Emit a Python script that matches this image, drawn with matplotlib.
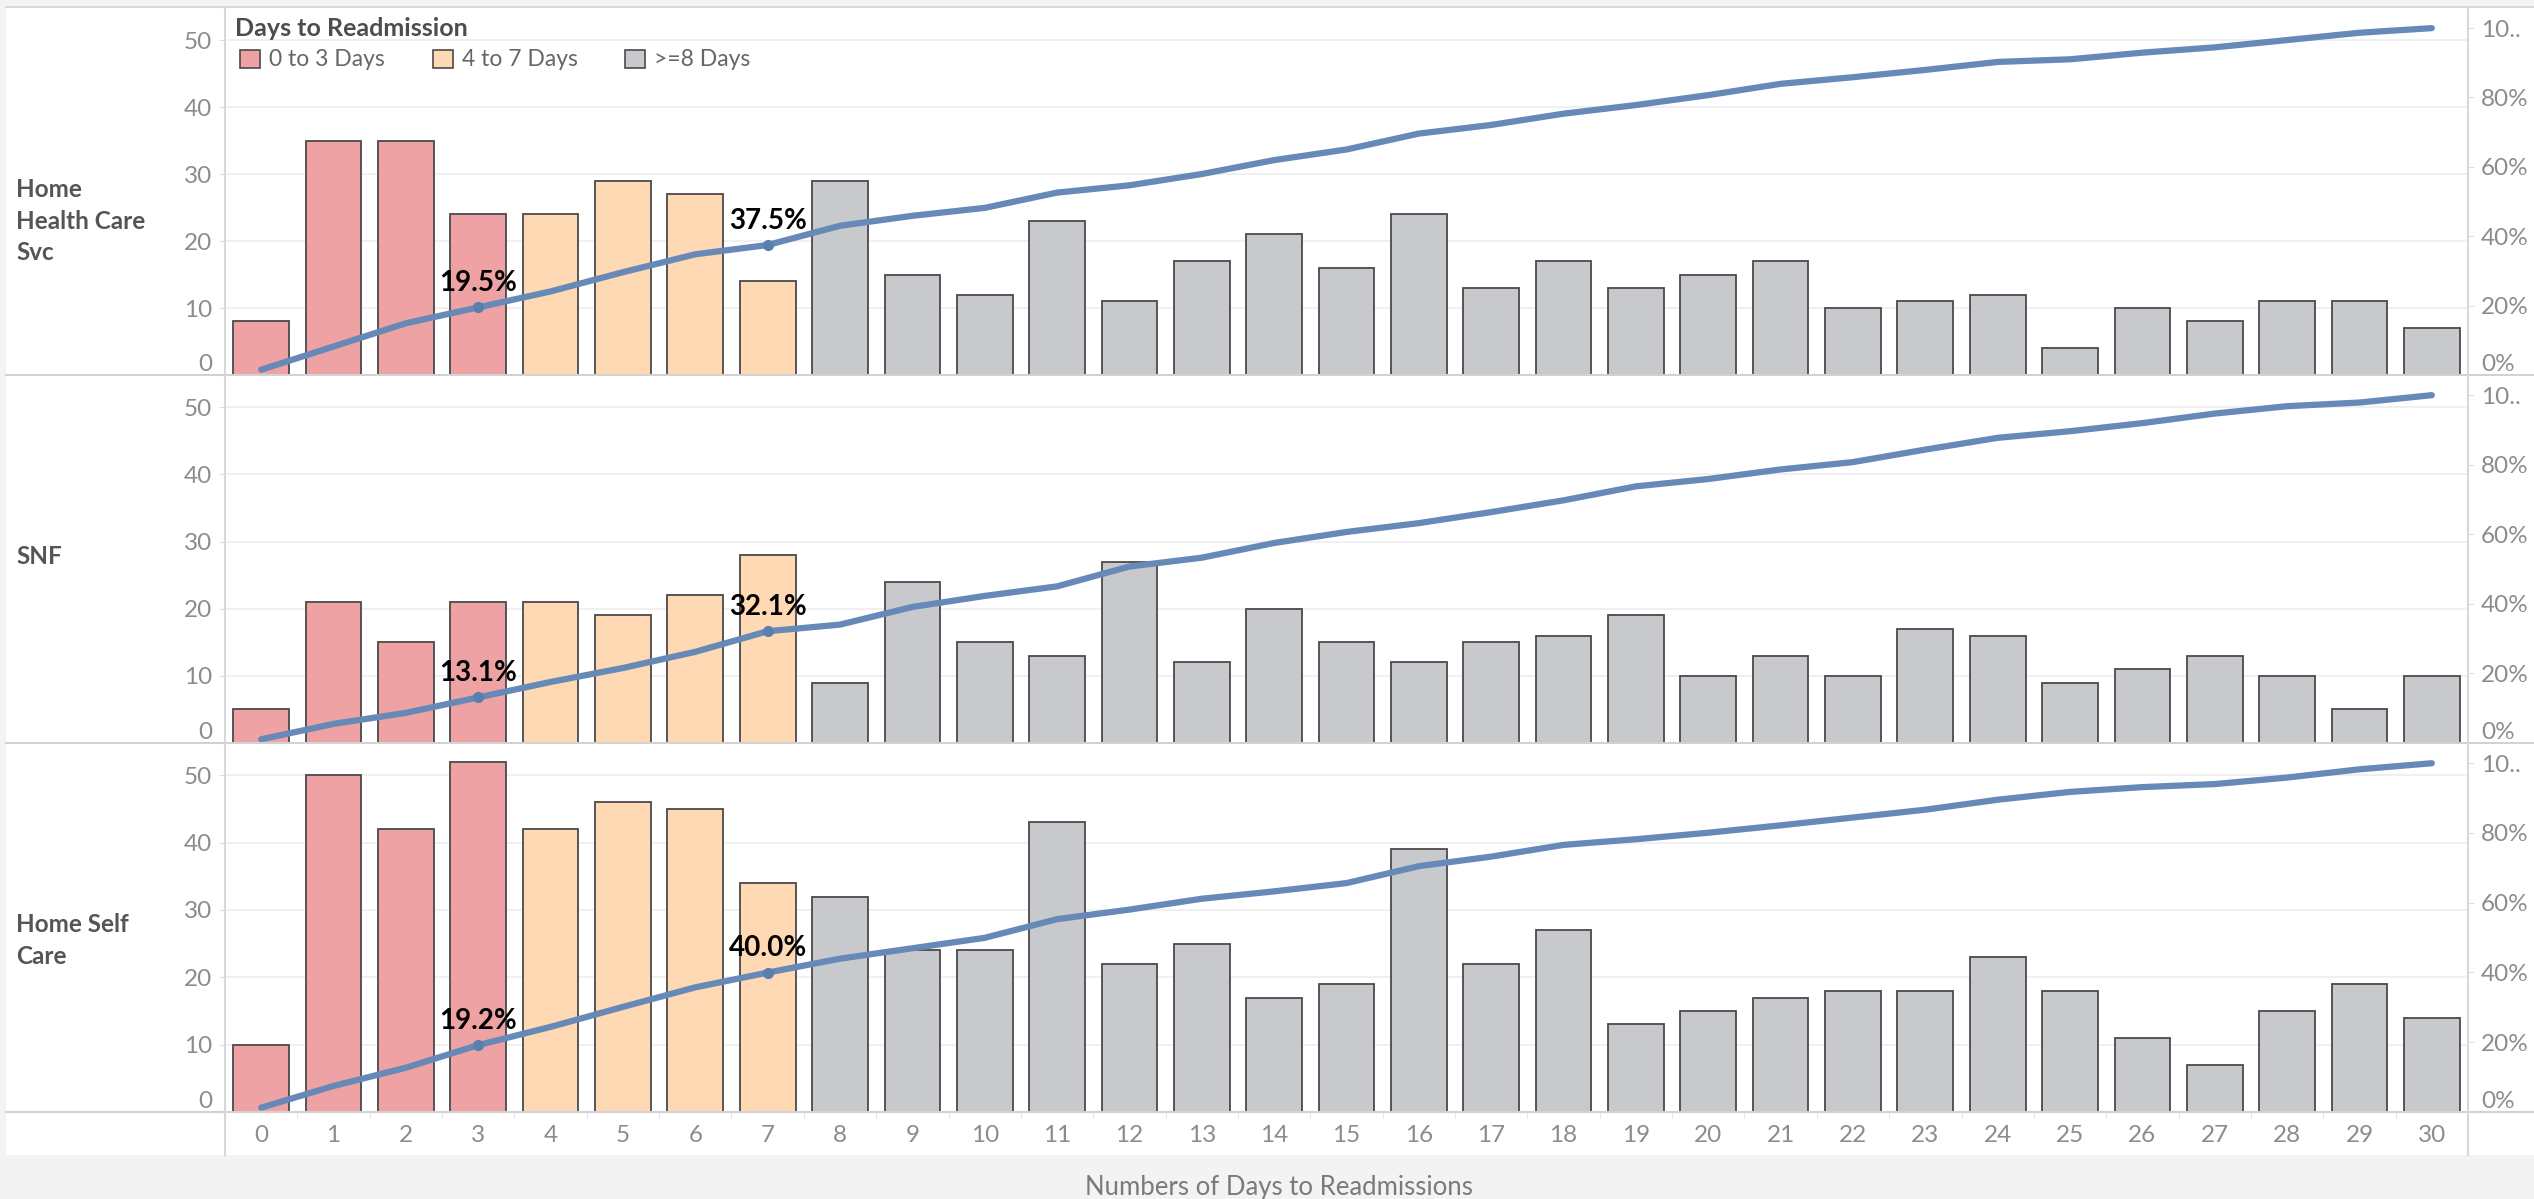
import matplotlib.pyplot as plt
from matplotlib.patches import Rectangle
from matplotlib.lines import Line2D
import numpy as np

plt.rcParams['font.family'] = ['Lato', 'DejaVu Sans']

# readmission counts per day, one list per discharge disposition
days = list(range(31))
home_health_care = [8, 35, 35, 24, 24, 29, 27, 14, 29, 15, 12, 23, 11, 17, 21, 16,
                    24, 13, 17, 13, 15, 17, 10, 11, 12, 4, 10, 8, 11, 11, 7]
snf = [5, 21, 15, 21, 21, 19, 22, 28, 9, 24, 15, 13, 27, 12, 20, 15,
       12, 15, 16, 19, 10, 13, 10, 17, 16, 9, 11, 13, 10, 5, 10]
home_self_care = [10, 50, 42, 52, 42, 46, 45, 34, 32, 24, 24, 43, 22, 25, 17, 19,
                  39, 22, 27, 13, 15, 17, 18, 18, 23, 18, 11, 7, 15, 19, 14]

panel_names = ["Home\nHealth Care\nSvc", "SNF", "Home Self\nCare"]
panel_counts = [home_health_care, snf, home_self_care]

group_names = ["0 to 3 Days", "4 to 7 Days", ">=8 Days"]
group_colors = ["#eea2a4", "#fed9b4", "#c8c9cd"]
labelled_days = [3, 7]
pct_ticks = [0, 0.2, 0.4, 0.6, 0.8, 1.0]
pct_labels = ["0%", "20%", "40%", "60%", "80%", "10.."]

W, H = 2534, 1199
fig = plt.figure(figsize=(W / 100, H / 100), dpi=100, facecolor="#f3f3f3")


def fx(px):
    return px / W


def fy(py):
    return 1 - py / H


def hline(y, x0, x1, color="#d2d2d2", lw=1.5):
    fig.add_artist(Line2D([fx(x0), fx(x1)], [fy(y), fy(y)], transform=fig.transFigure,
                          color=color, lw=lw, zorder=5))


def vline(x, y0, y1, color="#d8d8d8", lw=1.5):
    fig.add_artist(Line2D([fx(x), fx(x)], [fy(y0), fy(y1)], transform=fig.transFigure,
                          color=color, lw=lw, zorder=5))


# white sheet behind the worksheet
fig.add_artist(Rectangle((fx(6), fy(1155)), 1 - fx(6), fy(8) - fy(1155),
                         transform=fig.transFigure, facecolor="white", edgecolor="none", zorder=0))

pane_left, pane_right = 225, 2468
panel_edges = [8, 375, 743, 1112]
tick_grey = "#8c8c8c"
line_blue = "#6689b8"

for i, (name, counts) in enumerate(zip(panel_names, panel_counts)):
    top, bottom = panel_edges[i], panel_edges[i + 1]
    ax = fig.add_axes([fx(pane_left), fy(bottom), fx(pane_right) - fx(pane_left), fy(top) - fy(bottom)])
    ax.patch.set_visible(False)
    colors = [group_colors[0] if d <= 3 else group_colors[1] if d <= 7 else group_colors[2] for d in days]
    ax.bar(days, counts, width=0.77, color=colors, edgecolor="#4a4a4a", linewidth=1.3, zorder=2)
    ax.set_xlim(-0.5, 30.5)
    ax.set_ylim(0, 54.8)
    ax.set_yticks(range(0, 51, 10))
    ax.grid(axis="y", color="#efefef", linewidth=1.3)
    ax.set_axisbelow(True)
    for s in ax.spines.values():
        s.set_visible(False)
    ax.tick_params(axis="y", length=4.3, color="#e0e0e0", labelsize=17.5, labelcolor=tick_grey, pad=5)
    ax.get_yticklabels()[0].set_va("bottom")

    if i < 2:
        ax.tick_params(axis="x", which="both", bottom=False, labelbottom=False)
    else:
        ax.set_xticks(days)
        ax.set_xticks([d + 0.5 for d in days[:-1]], minor=True)
        ax.tick_params(axis="x", which="major", length=0, labelsize=17.5, labelcolor=tick_grey, pad=9)
        ax.tick_params(axis="x", which="minor", length=4, color="#e0e0e0")

    # running share of readmissions
    share = np.cumsum(counts) / sum(counts)
    ax2 = ax.twinx()
    ax2.plot(days, share, color=line_blue, lw=4.5, solid_capstyle="round", zorder=3)
    ax2.set_ylim(0, 1.058)
    ax2.set_yticks(pct_ticks)
    ax2.set_yticklabels(pct_labels)
    ax2.tick_params(axis="y", length=4.3, color="#e0e0e0", labelsize=17.5, labelcolor=tick_grey, pad=5)
    ax2.get_yticklabels()[0].set_va("bottom")
    for s in ax2.spines.values():
        s.set_visible(False)
    for d in labelled_days:
        ax2.plot(d, share[d], "o", color="#5a7eae", ms=7, zorder=4)
        ax2.annotate(f"{share[d] * 100:.1f}%", (d, share[d]), xytext=(0, 8), textcoords="offset points",
                     ha="center", va="bottom", fontsize=20, fontweight="bold", color="black")

    fig.text(fx(16), fy(top + 170), name, ha="left", va="top", fontsize=17.5, fontweight="bold",
             color="#555555", linespacing=1.45)

# frame lines
hline(7, 6, W, color="#d9d9d9")
for y in panel_edges[1:]:
    hline(y, 6, W)
vline(pane_left, 8, 1155)
vline(pane_right, 8, 1155)

# legend
fig.text(fx(235), fy(28), "Days to Readmission", ha="left", va="center", fontsize=18,
         fontweight="bold", color="#4d4d4d")
for x0, label, c in zip([240, 433, 625], group_names, group_colors):
    fig.add_artist(Rectangle((fx(x0), fy(68)), fx(20), fy(50) - fy(68), transform=fig.transFigure,
                             facecolor=c, edgecolor="#4a4a4a", lw=1.2, zorder=6))
    fig.text(fx(x0 + 29), fy(59), label, ha="left", va="center", fontsize=16.5, color="#666666")

fig.text(fx(1279), fy(1187), "Numbers of Days to Readmissions", ha="center", va="center",
         fontsize=18.5, color="#7a7a7a")

fig.savefig("out.png", dpi=100, facecolor=fig.get_facecolor())
